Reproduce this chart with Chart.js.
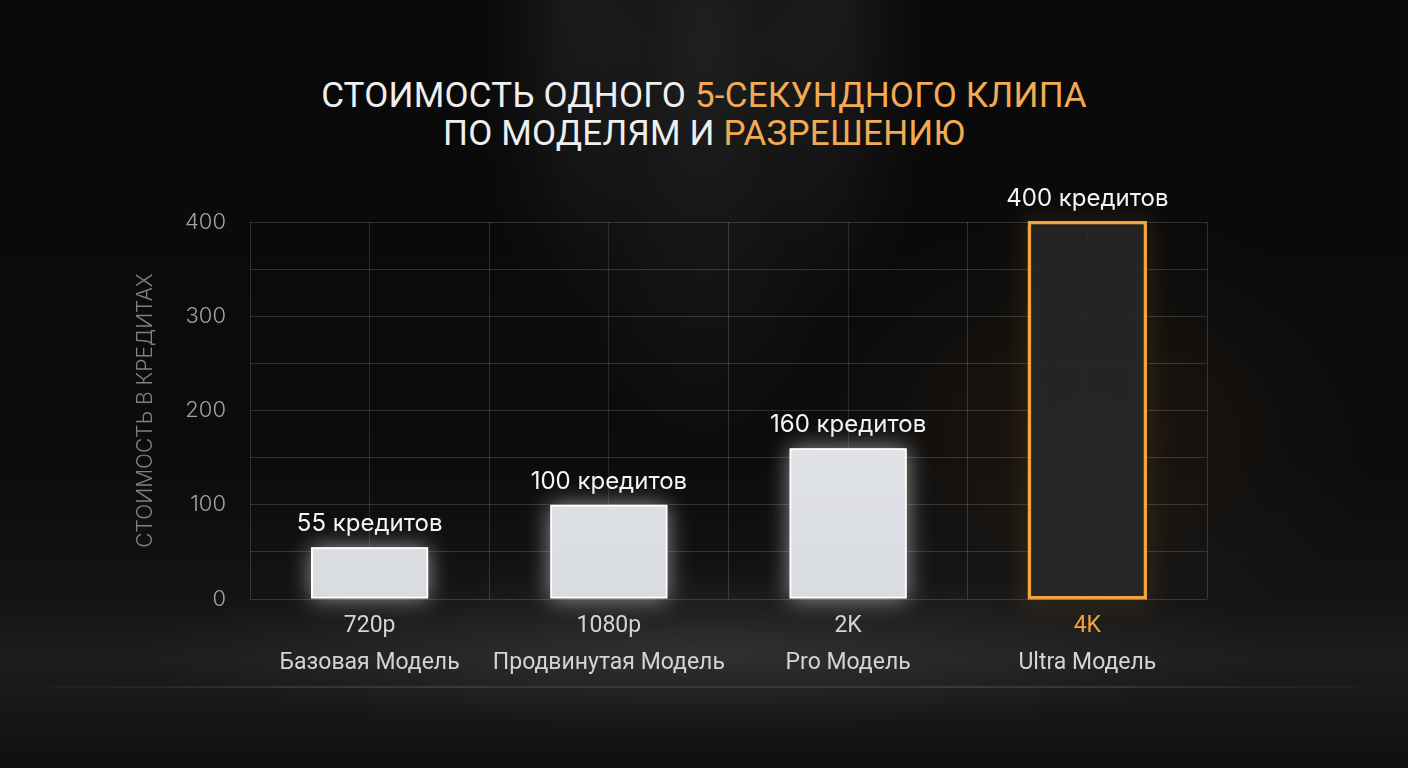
<!DOCTYPE html>
<html lang="ru">
<head>
<meta charset="utf-8">
<title>Стоимость клипа</title>
<script src="https://cdn.jsdelivr.net/npm/chart.js@4.4.1/dist/chart.umd.min.js"></script>
<style>
  html, body { margin: 0; padding: 0; }
  body {
    width: 1408px; height: 768px; overflow: hidden; position: relative;
    background:
      radial-gradient(ellipse 240px 560px at 50% 5%, rgba(255,255,255,0.09), rgba(255,255,255,0) 75%),
      radial-gradient(ellipse 120px 420px at 40% 0%, rgba(255,255,255,0.05), rgba(255,255,255,0) 75%),
      radial-gradient(ellipse 120px 420px at 60% 0%, rgba(255,255,255,0.05), rgba(255,255,255,0) 75%),
      radial-gradient(ellipse 420px 320px at 1090px 430px, rgba(240,160,60,0.07), rgba(0,0,0,0) 70%),
      radial-gradient(ellipse 760px 110px at 50% 650px, rgba(255,255,255,0.09), rgba(0,0,0,0) 75%),
      linear-gradient(to bottom, #09090a 0%, #0c0c0d 60%, #141415 78%, #1d1d1e 86%, #101011 100%);
  }
  #floor {
    position: absolute; left: 0; top: 686px; width: 1408px; height: 2px;
    background: linear-gradient(to right, rgba(255,255,255,0), rgba(255,255,255,0.10) 20%, rgba(255,255,255,0.10) 80%, rgba(255,255,255,0));
  }
  #title {
    position: absolute; left: 0; top: 77px; width: 1408px; text-align: center;
    font-family: Roboto, "Noto Sans", sans-serif; font-weight: 400;
    font-size: 35px; line-height: 38px; color: #efefef; letter-spacing: 0.2px;
  }
  #title .hl { color: #f1ab55; }
  #wrap { position: absolute; left: 0; top: 0; width: 1408px; height: 768px; }
</style>
</head>
<body>
<div id="floor"></div>
<div id="title">СТОИМОСТЬ ОДНОГО <span class="hl">5-СЕКУНДНОГО КЛИПА</span><br>ПО МОДЕЛЯМ И <span class="hl">РАЗРЕШЕНИЮ</span></div>
<div id="wrap"><canvas id="myChart" width="1408" height="768"></canvas></div>
<script>
// data
const resolutions = ['720p', '1080p', '2K', '4K'];
const models = ['Базовая Модель', 'Продвинутая Модель', 'Pro Модель', 'Ultra Модель'];
const credits = [55, 100, 160, 400];
const valueLabels = ['55 кредитов', '100 кредитов', '160 кредитов', '400 кредитов'];
const yMax = 400;

// styles
const ORANGE = '#f2a53c';
const resColors = ['#d4d4d4', '#d4d4d4', '#d4d4d4', ORANGE];
const glowColors = ['rgba(255,255,255,0.7)', 'rgba(255,255,255,0.7)', 'rgba(255,255,255,0.7)', 'rgba(245,160,50,0.85)'];

// glow behind bars + value labels above them
const barFx = {
    id: 'barFx',
    beforeDatasetsDraw(chart) {
        const ctx = chart.ctx;
        chart.getDatasetMeta(0).data.forEach((bar, i) => {
            const p = bar.getProps(['x', 'y', 'base', 'width'], true);
            ctx.save();
            ctx.shadowColor = glowColors[i];
            ctx.shadowBlur = 22;
            if (i === 3) {
                ctx.strokeStyle = ORANGE;
                ctx.lineWidth = 2;
                ctx.strokeRect(p.x - p.width / 2, p.y, p.width, p.base - p.y);
            } else {
                ctx.fillStyle = 'rgba(255,255,255,0.8)';
                ctx.fillRect(p.x - p.width / 2, p.y, p.width, p.base - p.y);
            }
            ctx.restore();
        });
    },
    afterDatasetsDraw(chart) {
        const ctx = chart.ctx;
        ctx.save();
        ctx.font = '400 24px Inter, "Open Sans", sans-serif';
        ctx.fillStyle = '#f4f4f4';
        ctx.textAlign = 'center';
        ctx.textBaseline = 'bottom';
        chart.getDatasetMeta(0).data.forEach((bar, i) => {
            ctx.fillText(valueLabels[i], bar.x, bar.y - 11);
        });
        ctx.restore();
    }
};

const ctx = document.getElementById('myChart').getContext('2d');
const myChart = new Chart(ctx, {
    type: 'bar',
    data: {
        labels: resolutions,
        datasets: [{
            data: credits,
            backgroundColor: function(c) {
                if (c.dataIndex === 3) return 'rgba(40,40,40,0.85)';
                const area = c.chart.chartArea;
                if (!area) return '#e4e6ea';
                const g = c.chart.ctx.createLinearGradient(0, area.top, 0, area.bottom);
                g.addColorStop(0, '#f3f4f6');
                g.addColorStop(0.5, '#e2e4e8');
                g.addColorStop(1, '#d8dbe0');
                return g;
            },
            borderColor: ['#ffffff', '#ffffff', '#ffffff', ORANGE],
            borderWidth: [2, 2, 2, 2.5],
            borderSkipped: false,
            categoryPercentage: 1,
            barPercentage: 0.49
        }]
    },
    options: {
        responsive: false,
        animation: false,
        layout: { padding: { left: 129, top: 222, right: 201, bottom: 0 } },
        plugins: { legend: { display: false }, tooltip: { enabled: false } },
        scales: {
            x: {
                weight: 1,
                grid: { color: 'rgba(255,255,255,0.15)', offset: true, drawTicks: false },
                border: { display: false },
                ticks: {
                    color: resColors,
                    padding: 13,
                    font: { family: 'Roboto, "Noto Sans", sans-serif', size: 23 }
                },
                afterFit(scale) { scale.height = 38; }
            },
            xm: {
                type: 'category',
                position: 'bottom',
                weight: 2,
                labels: models,
                offset: true,
                grid: { color: 'rgba(255,255,255,0.12)', offset: false, drawTicks: false },
                border: { display: false },
                ticks: {
                    color: '#d4d4d4',
                    padding: 12,
                    font: { family: 'Roboto, "Noto Sans", sans-serif', size: 23 }
                },
                afterFit(scale) { scale.height = 131; }
            },
            y: {
                min: 0,
                max: yMax,
                grid: { color: 'rgba(255,255,255,0.15)', drawTicks: false },
                border: { display: false },
                ticks: {
                    stepSize: 50,
                    padding: 24,
                    color: '#a3a3a3',
                    font: { family: 'Inter, "Open Sans", sans-serif', size: 22, weight: 300 },
                    callback: v => (v % 100 === 0 ? v : '')
                },
                title: {
                    display: true,
                    text: 'СТОИМОСТЬ В КРЕДИТАХ',
                    color: '#808080',
                    padding: { top: 4, bottom: 4 },
                    font: { family: 'Inter, "Open Sans", sans-serif', size: 21, weight: 300 }
                },
                afterFit(scale) { scale.width = 121; }
            }
        }
    },
    plugins: [barFx]
});
</script>
</body>
</html>
